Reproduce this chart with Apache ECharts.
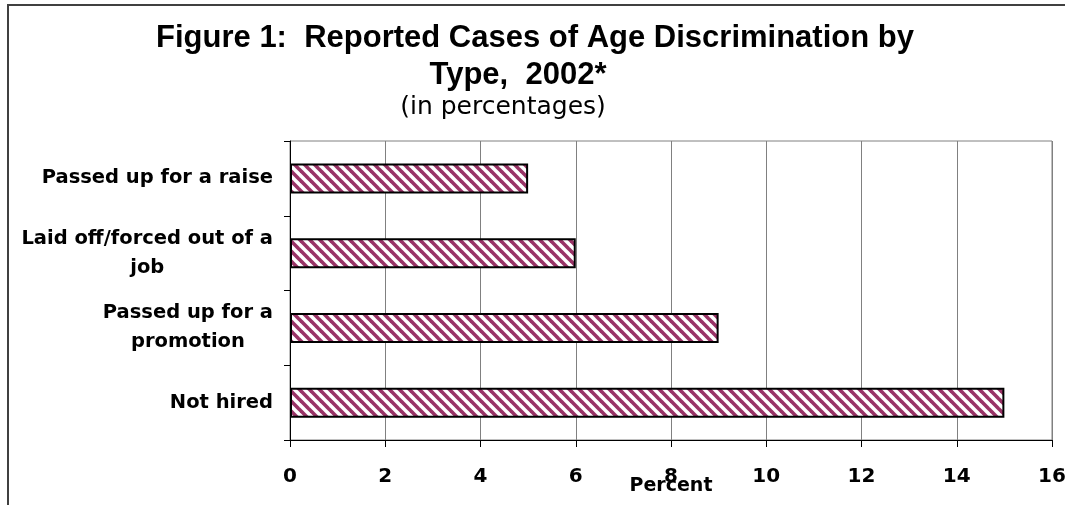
<!DOCTYPE html>
<html>
<head>
<meta charset="utf-8">
<script src="https://cdn.jsdelivr.net/npm/echarts@6/dist/echarts.min.js"></script>
<style>
  html, body { margin: 0; padding: 0; background: #fff; }
  #chart { width: 1065px; height: 505px; }
</style>
</head>
<body>
<div id="chart"></div>
<script>
// Reported cases of age discrimination by type, 2002 (percent)
const categories = [
  'Passed up for a raise',
  'Laid off/forced out of a\njob',
  'Passed up for a\npromotion',
  'Not hired'
];
const percentValues = [5, 6, 9, 15];
const xTicks = { min: 0, max: 16, step: 2 };

const FONT = '"DejaVu Sans", "Liberation Sans", Arial, sans-serif';
const TITLE_FONT = '"Liberation Sans", Arial, sans-serif';
const PLUM = '#993366';

// Diagonal hatch tile for the bars
function hatchTile(size, color, width) {
  const c = document.createElement('canvas');
  c.width = size; c.height = size;
  const g = c.getContext('2d');
  g.fillStyle = '#fff';
  g.fillRect(0, 0, size, size);
  g.strokeStyle = color;
  g.lineWidth = width;
  for (let k = -1; k <= 1; k++) {
    g.beginPath();
    g.moveTo(k * size - 2, -2);
    g.lineTo(k * size + size + 2, size + 2);
    g.stroke();
  }
  return c;
}

const chart = echarts.init(document.getElementById('chart'), null, { renderer: 'canvas' });

chart.setOption({
  animation: false,
  backgroundColor: '#fff',
  title: [
    {
      text: 'Figure 1:  Reported Cases of Age Discrimination by',
      left: 530, top: 18, textAlign: 'center',
      textStyle: { fontFamily: TITLE_FONT, fontWeight: 'bold', fontSize: 31, color: '#000' }
    },
    {
      text: 'Type,  2002*',
      left: 513, top: 55, textAlign: 'center',
      textStyle: { fontFamily: TITLE_FONT, fontWeight: 'bold', fontSize: 31, color: '#000' }
    },
    {
      text: '(in percentages)',
      left: 498, top: 90, textAlign: 'center',
      textStyle: { fontFamily: FONT, fontWeight: 'normal', fontSize: 25, color: '#000' }
    }
  ],
  graphic: [
    {
      type: 'rect',
      silent: true,
      shape: { x: 8, y: 5, width: 1200, height: 700 },
      style: { fill: 'none', stroke: '#404040', lineWidth: 2 }
    }
  ],
  grid: {
    left: 290, right: 13, top: 141, bottom: 65,
    outerBoundsMode: 'none',
    show: true, borderColor: '#808080', borderWidth: 1,
    backgroundColor: 'transparent'
  },
  xAxis: {
    type: 'value',
    min: xTicks.min, max: xTicks.max, interval: xTicks.step,
    name: 'Percent',
    nameLocation: 'middle',
    nameGap: 37,
    nameMoveOverlap: false,
    nameTextStyle: { fontFamily: FONT, fontWeight: 'bold', fontSize: 19, color: '#000' },
    axisLine: { show: true, lineStyle: { color: '#000', width: 1 } },
    axisTick: { show: true, length: 7, lineStyle: { color: '#000' } },
    splitLine: { show: true, lineStyle: { color: '#808080', width: 1 } },
    axisLabel: {
      margin: 27,
      fontFamily: FONT, fontWeight: 'bold', fontSize: 20, color: '#000'
    }
  },
  yAxis: {
    type: 'category',
    data: categories,
    inverse: true,
    axisLine: { show: true, lineStyle: { color: '#000', width: 1 } },
    axisTick: { show: true, length: 6, alignWithLabel: false, lineStyle: { color: '#000' } },
    splitLine: { show: false },
    axisLabel: {
      margin: 17,
      formatter: (v) => v.split('\n').map(l => '{c|' + l + '}').join('\n'),
      rich: {
        c: {
          align: 'center',
          fontFamily: FONT, fontWeight: 'bold', fontSize: 19.5, lineHeight: 29, color: '#000'
        }
      }
    }
  },
  series: [
    {
      type: 'bar',
      data: percentValues,
      barWidth: 30,
      itemStyle: {
        color: { image: hatchTile(10, PLUM, 3.6), repeat: 'repeat' },
        borderColor: '#000',
        borderWidth: 2
      }
    }
  ]
});
</script>
</body>
</html>
